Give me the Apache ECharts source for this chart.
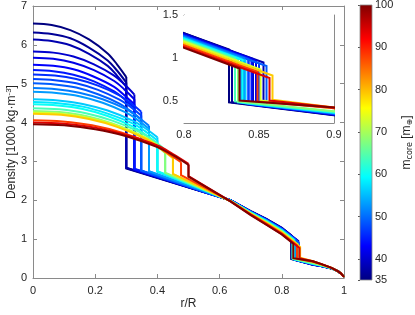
<!DOCTYPE html>
<html><head><meta charset="utf-8">
<script src="https://cdn.jsdelivr.net/npm/echarts@6/dist/echarts.min.js"></script>
<style>html,body{margin:0;padding:0;background:#fff}#c{width:415px;height:315px}</style>
</head><body><div id="c"></div>
<script>
// ---- axis / tick data ----
const xTicks = [0, 0.2, 0.4, 0.6, 0.8, 1];
const yTicks = [0, 1, 2, 3, 4, 5, 6, 7];
const insetX = [0.8, 0.9];
const insetXTicks = [0.8, 0.85, 0.9];
const insetY = [0.25, 1.5];
const insetYTicks = [0.5, 1, 1.5];
const cbRange = [35, 100];
const cbTicks = [35, 40, 50, 60, 70, 80, 90, 100];

// ---- core masses (colour of each profile) ----
const masses = [35, 36.5, 38, 40, 41.5, 43, 44.5, 46, 47.5, 49, 51, 53, 56, 58, 60, 64, 68, 73, 79, 88, 94, 100];

// ---- density profiles [r/R, density]; first 7 points = core ----
const tail = [[0.98, 0.175], [0.99, 0.12], [1, 0.03]];
const c01 = [[0,6.55],[0.06,6.51],[0.12,6.38],[0.18,6.14],[0.24,5.78],[0.27,5.50],[0.30,5.17],[0.30,2.82],[0.635,2.00],[0.70,1.72],[0.75,1.52],[0.80,1.29],[0.830,1.10],[0.830,0.49],[0.90,0.340],[0.93,0.300],[0.96,0.245]];
const c02 = [[0,6.32],[0.06,6.28],[0.12,6.17],[0.18,5.93],[0.24,5.60],[0.27,5.34],[0.30,5.03],[0.30,2.83],[0.635,2.00],[0.70,1.72],[0.75,1.52],[0.80,1.29],[0.832,1.08],[0.832,0.49],[0.90,0.342],[0.93,0.301],[0.96,0.245]];
const c03 = [[0,6.14],[0.06,6.10],[0.12,5.99],[0.18,5.77],[0.24,5.46],[0.27,5.21],[0.30,4.92],[0.30,2.84],[0.635,2.00],[0.70,1.71],[0.75,1.51],[0.80,1.28],[0.853,0.95],[0.853,0.45],[0.90,0.344],[0.93,0.302],[0.96,0.246]];
const c04 = [[0,5.83],[0.065,5.80],[0.13,5.70],[0.196,5.50],[0.261,5.21],[0.293,4.99],[0.326,4.72],[0.326,2.78],[0.635,2.00],[0.70,1.71],[0.75,1.51],[0.80,1.28],[0.846,0.99],[0.846,0.46],[0.90,0.347],[0.93,0.304],[0.96,0.247]];
const c05 = [[0,5.67],[0.065,5.64],[0.13,5.54],[0.196,5.35],[0.261,5.07],[0.293,4.86],[0.326,4.60],[0.326,2.79],[0.635,2.00],[0.70,1.71],[0.75,1.50],[0.80,1.27],[0.848,0.97],[0.848,0.46],[0.90,0.349],[0.93,0.305],[0.96,0.247]];
const c06 = [[0,5.49],[0.065,5.46],[0.13,5.37],[0.196,5.18],[0.261,4.92],[0.293,4.71],[0.326,4.47],[0.326,2.80],[0.635,2.00],[0.70,1.71],[0.75,1.50],[0.80,1.27],[0.843,1.00],[0.843,0.47],[0.90,0.351],[0.93,0.306],[0.96,0.247]];
const c07 = [[0,5.35],[0.065,5.32],[0.13,5.23],[0.196,5.06],[0.261,4.80],[0.293,4.61],[0.326,4.37],[0.326,2.81],[0.635,2.00],[0.70,1.70],[0.75,1.50],[0.80,1.26],[0.845,0.98],[0.845,0.47],[0.90,0.353],[0.93,0.307],[0.96,0.248]];
const c08 = [[0,5.24],[0.07,5.21],[0.139,5.12],[0.209,4.95],[0.278,4.70],[0.313,4.51],[0.348,4.28],[0.348,2.75],[0.635,1.99],[0.70,1.70],[0.75,1.49],[0.80,1.26],[0.850,0.94],[0.850,0.46],[0.90,0.355],[0.93,0.308],[0.96,0.248]];
const c09 = [[0,5.12],[0.07,5.09],[0.139,5.01],[0.209,4.84],[0.278,4.59],[0.313,4.41],[0.348,4.18],[0.348,2.76],[0.635,1.99],[0.70,1.70],[0.75,1.49],[0.80,1.26],[0.843,0.99],[0.843,0.47],[0.90,0.357],[0.93,0.310],[0.96,0.249]];
const c10 = [[0,5.01],[0.07,4.98],[0.139,4.90],[0.209,4.73],[0.278,4.49],[0.313,4.30],[0.348,4.08],[0.348,2.77],[0.635,1.99],[0.70,1.70],[0.75,1.49],[0.80,1.25],[0.855,0.91],[0.855,0.45],[0.90,0.359],[0.93,0.311],[0.96,0.249]];
const c11 = [[0,4.89],[0.075,4.86],[0.149,4.77],[0.224,4.60],[0.298,4.35],[0.336,4.15],[0.373,3.92],[0.373,2.74],[0.635,1.99],[0.70,1.69],[0.75,1.48],[0.80,1.25],[0.840,1.00],[0.840,0.48],[0.90,0.362],[0.93,0.312],[0.96,0.250]];
const c12 = [[0,4.79],[0.075,4.76],[0.149,4.68],[0.224,4.51],[0.298,4.26],[0.336,4.07],[0.373,3.84],[0.373,2.75],[0.635,1.99],[0.70,1.69],[0.75,1.48],[0.80,1.24],[0.838,1.00],[0.838,0.49],[0.90,0.365],[0.93,0.314],[0.96,0.250]];
const c13 = [[0,4.60],[0.08,4.57],[0.16,4.48],[0.24,4.31],[0.32,4.05],[0.36,3.86],[0.40,3.62],[0.40,2.73],[0.635,1.99],[0.70,1.69],[0.75,1.47],[0.80,1.23],[0.841,0.97],[0.841,0.48],[0.90,0.369],[0.93,0.316],[0.96,0.251]];
const c14 = [[0,4.53],[0.08,4.50],[0.16,4.41],[0.24,4.23],[0.32,3.98],[0.36,3.78],[0.40,3.54],[0.40,2.74],[0.635,1.99],[0.70,1.68],[0.75,1.47],[0.80,1.23],[0.836,1.00],[0.836,0.49],[0.90,0.372],[0.93,0.318],[0.96,0.252]];
const c15 = [[0,4.47],[0.08,4.44],[0.16,4.35],[0.24,4.17],[0.32,3.90],[0.36,3.70],[0.40,3.46],[0.40,2.75],[0.635,1.99],[0.70,1.68],[0.75,1.46],[0.80,1.22],[0.839,0.98],[0.839,0.49],[0.90,0.375],[0.93,0.319],[0.96,0.253]];
const c16 = [[0,4.37],[0.085,4.34],[0.17,4.24],[0.255,4.05],[0.34,3.77],[0.383,3.56],[0.425,3.30],[0.425,2.70],[0.635,1.99],[0.70,1.67],[0.75,1.45],[0.80,1.21],[0.834,1.00],[0.834,0.50],[0.90,0.380],[0.93,0.322],[0.96,0.254]];
const c17 = [[0,4.30],[0.085,4.27],[0.17,4.17],[0.255,3.98],[0.34,3.70],[0.383,3.48],[0.425,3.22],[0.425,2.71],[0.635,1.98],[0.70,1.67],[0.75,1.44],[0.80,1.20],[0.836,0.97],[0.836,0.50],[0.90,0.386],[0.93,0.325],[0.96,0.255]];
const c18 = [[0,4.26],[0.09,4.23],[0.18,4.12],[0.27,3.92],[0.36,3.62],[0.405,3.39],[0.45,3.12],[0.45,2.67],[0.635,1.98],[0.70,1.66],[0.75,1.43],[0.80,1.19],[0.851,0.87],[0.851,0.51],[0.90,0.420],[0.93,0.340],[0.96,0.257]];
const c19 = [[0,4.23],[0.09,4.20],[0.18,4.09],[0.27,3.89],[0.36,3.59],[0.405,3.36],[0.45,3.08],[0.45,2.68],[0.635,1.98],[0.70,1.65],[0.75,1.42],[0.80,1.17],[0.859,0.80],[0.859,0.52],[0.90,0.430],[0.93,0.350],[0.96,0.260]];
const c20 = [[0,4.06],[0.095,4.03],[0.19,3.93],[0.286,3.74],[0.381,3.46],[0.428,3.24],[0.476,2.98],[0.476,2.65],[0.635,1.98],[0.70,1.64],[0.75,1.40],[0.80,1.15],[0.849,0.84],[0.849,0.50],[0.90,0.420],[0.93,0.345],[0.96,0.260]];
const c21 = [[0,4.00],[0.10,3.97],[0.20,3.87],[0.30,3.68],[0.40,3.41],[0.45,3.19],[0.50,2.94],[0.50,2.62],[0.635,1.97],[0.70,1.63],[0.75,1.38],[0.80,1.13],[0.857,0.77],[0.857,0.51],[0.90,0.430],[0.93,0.350],[0.96,0.260]];
const c22 = [[0,3.96],[0.10,3.93],[0.20,3.83],[0.30,3.65],[0.40,3.37],[0.45,3.16],[0.50,2.91],[0.50,2.61],[0.635,1.97],[0.70,1.62],[0.75,1.37],[0.80,1.12],[0.837,0.88],[0.837,0.51],[0.90,0.430],[0.93,0.350],[0.96,0.260]];
const curves = [c01,c02,c03,c04,c05,c06,c07,c08,c09,c10,c11,c12,c13,c14,c15,c16,c17,c18,c19,c20,c21,c22];
const CORE_POINTS = 7;

// ---- styling helpers ----
function jetRGB(t){
  const c = v => Math.max(0, Math.min(1, v));
  return [c(1.5-Math.abs(4*t-3)), c(1.5-Math.abs(4*t-2)), c(1.5-Math.abs(4*t-1))];
}
function jet(t){ const [r,g,b] = jetRGB(t); return `rgb(${Math.round(r*255)},${Math.round(g*255)},${Math.round(b*255)})`; }
const FONT = 'Liberation Sans, Arial, Helvetica, sans-serif';
const AX = '#8a8a8a', TXT = '#262626';

const chart = echarts.init(document.getElementById('c'), null, {renderer:'canvas'});

function boxAxis(extra){
  return Object.assign({
    type:'value',
    axisLine:{show:true, onZero:false, lineStyle:{color:AX, width:1}},
    axisTick:{show:true, inside:true, length:4, lineStyle:{color:AX}},
    axisLabel:{show:false},
    splitLine:{show:false}
  }, extra);
}
const lab = {show:true, color:TXT, fontSize:11, fontFamily:FONT};
const insetTick = v => ({show:true, inside:true, length:3, lineStyle:{color:AX}, customValues:v});

const xAxes = [
  boxAxis({gridIndex:0, min:xTicks[0], max:xTicks[xTicks.length-1], interval:0.2, position:'bottom',
    axisLabel:Object.assign({}, lab, {margin:7, formatter:v=>String(+v.toFixed(1))}),
    name:'r/R', nameLocation:'middle', nameGap:20, nameMoveOverlap:false,
    nameTextStyle:{color:TXT, fontSize:12, fontFamily:FONT}}),
  boxAxis({gridIndex:0, min:xTicks[0], max:xTicks[xTicks.length-1], interval:0.2, position:'top'}),
  boxAxis({gridIndex:1, min:insetX[0], max:insetX[1], position:'bottom', axisTick:insetTick(insetXTicks),
    axisLabel:Object.assign({}, lab, {margin:6, customValues:insetXTicks, formatter:v=>String(+v.toFixed(2))})}),
  boxAxis({gridIndex:1, min:insetX[0], max:insetX[1], position:'top', axisTick:insetTick(insetXTicks)}),
  {type:'value', gridIndex:2, min:0, max:1, show:false}
];
const yAxes = [
  boxAxis({gridIndex:0, min:yTicks[0], max:yTicks[yTicks.length-1], interval:1, position:'left',
    axisLabel:Object.assign({}, lab, {margin:6}),
    name:'Density [1000 kg·m{sup|-3}]', nameLocation:'middle', nameGap:14, nameMoveOverlap:false,
    nameTextStyle:{color:TXT, fontSize:12, fontFamily:FONT, lineHeight:14,
      rich:{sup:{fontSize:8, fontFamily:FONT, color:TXT, verticalAlign:'top', lineHeight:8}}}}),
  boxAxis({gridIndex:0, min:yTicks[0], max:yTicks[yTicks.length-1], interval:1, position:'right'}),
  boxAxis({gridIndex:1, min:insetY[0], max:insetY[1], position:'left', axisTick:insetTick(insetYTicks),
    axisLabel:Object.assign({}, lab, {margin:6, customValues:insetYTicks})}),
  boxAxis({gridIndex:1, min:insetY[0], max:insetY[1], position:'right', axisTick:insetTick(insetYTicks)}),
  {type:'value', gridIndex:2, min:cbRange[0], max:cbRange[1], position:'right',
    axisLine:{show:false}, splitLine:{show:false},
    axisTick:{show:true, inside:true, length:2, lineStyle:{color:'#555'}, customValues:cbTicks},
    axisLabel:Object.assign({}, lab, {margin:3, customValues:cbTicks}),
    name:'m{sub|core} [m{sub|⊕}]', nameLocation:'middle', nameGap:28, nameRotate:90, nameMoveOverlap:false,
    nameTextStyle:{color:TXT, fontSize:12, fontFamily:FONT, lineHeight:14,
      rich:{sub:{fontSize:8, fontFamily:'DejaVu Sans, '+FONT, color:TXT, verticalAlign:'bottom', lineHeight:8}}}}
];

const series = [];
curves.forEach((d, i) => {
  const col = jet((masses[i]-cbRange[0])/(cbRange[1]-cbRange[0]));
  const style = {width:2, color:col, join:'miter', cap:'butt'};
  const core = d.slice(0, CORE_POINTS);
  const outer = d.slice(CORE_POINTS-1).concat(tail);
  [[0,0,2],[2,2,4]].forEach(([xi, yi, z]) => {
    series.push({type:'line', xAxisIndex:xi, yAxisIndex:yi, data:core, smooth:0.35, symbol:'none',
      silent:true, animation:false, clip:true, lineStyle:style, z:z});
    series.push({type:'line', xAxisIndex:xi, yAxisIndex:yi, data:outer, symbol:'none',
      silent:true, animation:false, clip:true, lineStyle:style, z:z});
  });
});
// colour bar
const stops = [0, 0.125, 0.375, 0.625, 0.875, 1].map(o => ({offset:o, color:jet(o)}));
series.push({type:'custom', xAxisIndex:4, yAxisIndex:4, silent:true, animation:false,
  data:[[0, cbRange[0], 1, cbRange[1]]],
  renderItem(params, api){
    const p0 = api.coord([api.value(0), api.value(1)]);
    const p1 = api.coord([api.value(2), api.value(3)]);
    return {type:'rect', shape:{x:p0[0], y:p1[1], width:p1[0]-p0[0], height:p0[1]-p1[1]},
      style:{fill:new echarts.graphic.LinearGradient(0,1,0,0,stops), stroke:'#8a8a8a', lineWidth:0.8}};
  }});

chart.setOption({
  backgroundColor:'#fff',
  animation:false,
  grid:[
    {left:33, top:6, width:311, height:272, containLabel:false, outerBoundsMode:'none'},
    {left:184, top:15, width:150, height:108, show:true, backgroundColor:'#fff', borderWidth:0, z:3, containLabel:false, outerBoundsMode:'none'},
    {left:360, top:5, width:12, height:275, containLabel:false, outerBoundsMode:'none'}
  ],
  xAxis:xAxes,
  yAxis:yAxes,
  series:series
});
</script></body></html>
